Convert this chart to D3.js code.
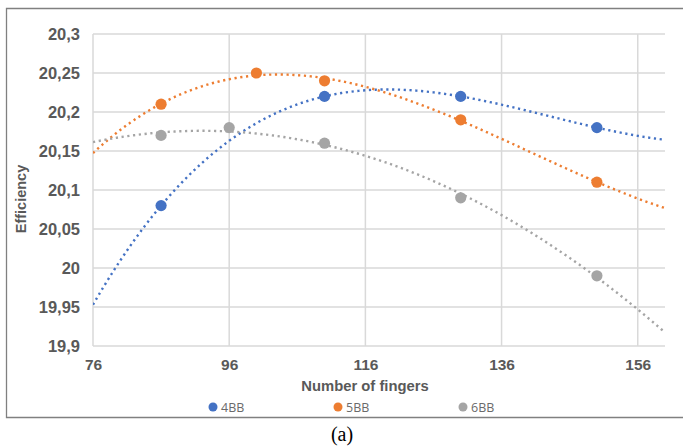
<!DOCTYPE html>
<html>
<head>
<meta charset="utf-8">
<script src="https://cdn.jsdelivr.net/npm/d3@7"></script>
<style>
  html, body { margin: 0; padding: 0; background: #fff; }
  svg { display: block; }
</style>
</head>
<body>
<svg id="chart" width="683" height="447"></svg>
<script>
// ---- data ----
const seriesNames = ["4BB", "5BB", "6BB"];
const fingers4BB = [86, 110, 130, 150];
const eff4BB = [20.08, 20.22, 20.22, 20.18];
const fingers5BB = [86, 100, 110, 130, 150];
const eff5BB = [20.21, 20.25, 20.24, 20.19, 20.11];
const fingers6BB = [86, 96, 110, 130, 150];
const eff6BB = [20.17, 20.18, 20.16, 20.09, 19.99];
const trendOrders = [3, 3, 2];   // polynomial trendline order per series
const xTicks = [76, 96, 116, 136, 156];
const yTicks = [19.9, 19.95, 20, 20.05, 20.1, 20.15, 20.2, 20.25, 20.3];
const colors = ["#4472C4", "#ED7D31", "#A5A5A5"];

const series = [
  { name: seriesNames[0], xs: fingers4BB, ys: eff4BB, color: colors[0], order: trendOrders[0] },
  { name: seriesNames[1], xs: fingers5BB, ys: eff5BB, color: colors[1], order: trendOrders[1] },
  { name: seriesNames[2], xs: fingers6BB, ys: eff6BB, color: colors[2], order: trendOrders[2] }
];

// ---- layout ----
const svg = d3.select("#chart");
const x = d3.scaleLinear().domain([76, 160]).range([93, 665]);
const y = d3.scaleLinear().domain([19.9, 20.3]).range([346, 34]);
const fmt = v => d3.format("")(+v.toFixed(2)).replace(".", ",");
const font = "'Liberation Sans', Arial, sans-serif";
const textCol = "#595959";

// outer frame
svg.append("path")
  .attr("d", "M690,8.5 H6.5 V417.5 H690")
  .attr("fill", "none").attr("stroke", "#808080").attr("stroke-width", 1.3);

// gridlines
const grid = svg.append("g");
grid.selectAll("line.h").data(yTicks).join("line")
  .attr("x1", x(76)).attr("x2", x(160))
  .attr("y1", d => y(d)).attr("y2", d => y(d))
  .attr("stroke", "#D9D9D9").attr("stroke-width", 1.5);
grid.selectAll("line.v").data(xTicks).join("line")
  .attr("x1", d => x(d)).attr("x2", d => x(d))
  .attr("y1", y(19.9)).attr("y2", y(20.3))
  .attr("stroke", "#D9D9D9").attr("stroke-width", 1.5);

// axes labels via d3 axes (no lines)
const yAxis = svg.append("g").attr("transform", `translate(${x(76)},0)`)
  .call(d3.axisLeft(y).tickValues(yTicks).tickFormat(fmt).tickSize(0).tickPadding(13));
const xAxis = svg.append("g").attr("transform", `translate(0,${y(19.9)})`)
  .call(d3.axisBottom(x).tickValues(xTicks).tickFormat(d => d).tickSize(0).tickPadding(13));
[yAxis, xAxis].forEach(a => {
  a.select(".domain").remove();
  a.selectAll("text").attr("font-family", font).attr("font-weight", "bold")
    .attr("fill", textCol);
});
yAxis.selectAll("text").attr("font-size", 16.5);
xAxis.selectAll("text").attr("font-size", 15.5);

// axis titles
svg.append("text").attr("x", 365).attr("y", 391).attr("text-anchor", "middle")
  .attr("font-family", font).attr("font-weight", "bold").attr("font-size", 14.8)
  .attr("fill", textCol).text("Number of fingers");
svg.append("text").attr("transform", "translate(26,199) rotate(-90)")
  .attr("text-anchor", "middle")
  .attr("font-family", font).attr("font-weight", "bold").attr("font-size", 14.5)
  .attr("fill", textCol).text("Efficiency");

// least-squares polynomial trendline (Excel polynomial trendline)
function polyfit(xs, ys, deg) {
  const c = 118, s = 40;
  const n = deg + 1;
  const A = Array.from({ length: n }, () => new Array(n + 1).fill(0));
  xs.forEach((xv, k) => {
    const t = (xv - c) / s;
    for (let i = 0; i < n; i++) {
      for (let j = 0; j < n; j++) A[i][j] += Math.pow(t, i + j);
      A[i][n] += Math.pow(t, i) * ys[k];
    }
  });
  for (let i = 0; i < n; i++) {
    let p = i;
    for (let r = i + 1; r < n; r++) if (Math.abs(A[r][i]) > Math.abs(A[p][i])) p = r;
    [A[i], A[p]] = [A[p], A[i]];
    for (let r = 0; r < n; r++) {
      if (r === i) continue;
      const f = A[r][i] / A[i][i];
      for (let k = i; k <= n; k++) A[r][k] -= f * A[i][k];
    }
  }
  const coef = A.map((row, i) => row[n] / row[i]);
  return xv => { const t = (xv - c) / s; return coef.reduce((acc, a, i) => acc + a * Math.pow(t, i), 0); };
}

svg.append("clipPath").attr("id", "plotclip").append("rect")
  .attr("x", x(76)).attr("y", y(20.3)).attr("width", x(160) - x(76)).attr("height", y(19.9) - y(20.3));

const samples = d3.range(76, 160.01, 0.5);
const line = d3.line().x(d => x(d[0])).y(d => y(d[1]));
const trends = svg.append("g").attr("clip-path", "url(#plotclip)");
series.forEach(sr => {
  const f = polyfit(sr.xs, sr.ys, sr.order);
  trends.append("path")
    .attr("d", line(samples.map(v => [v, f(v)])))
    .attr("fill", "none").attr("stroke", sr.color)
    .attr("stroke-width", 2.4).attr("stroke-dasharray", "2.2 3.6");
});

// points
series.forEach(sr => {
  svg.append("g").selectAll("circle").data(sr.xs.map((v, i) => [v, sr.ys[i]])).join("circle")
    .attr("cx", d => x(d[0])).attr("cy", d => y(d[1])).attr("r", 5.6)
    .attr("fill", sr.color);
});

// legend
const legend = svg.append("g");
const legX = [213, 338, 463];
series.forEach((sr, i) => {
  legend.append("circle").attr("cx", legX[i]).attr("cy", 407).attr("r", 4.5).attr("fill", sr.color);
  legend.append("text").attr("x", legX[i] + 8).attr("y", 411.5)
    .attr("font-family", "'Open Sans', 'Liberation Sans', sans-serif").attr("font-size", 12.5)
    .attr("fill", "#6a6a6a").text(sr.name);
});

// caption
svg.append("text").attr("x", 342).attr("y", 441).attr("text-anchor", "middle")
  .attr("font-family", "'Liberation Serif', 'Times New Roman', serif").attr("font-size", 20)
  .attr("fill", "#000").text("(a)");
</script>
</body>
</html>
